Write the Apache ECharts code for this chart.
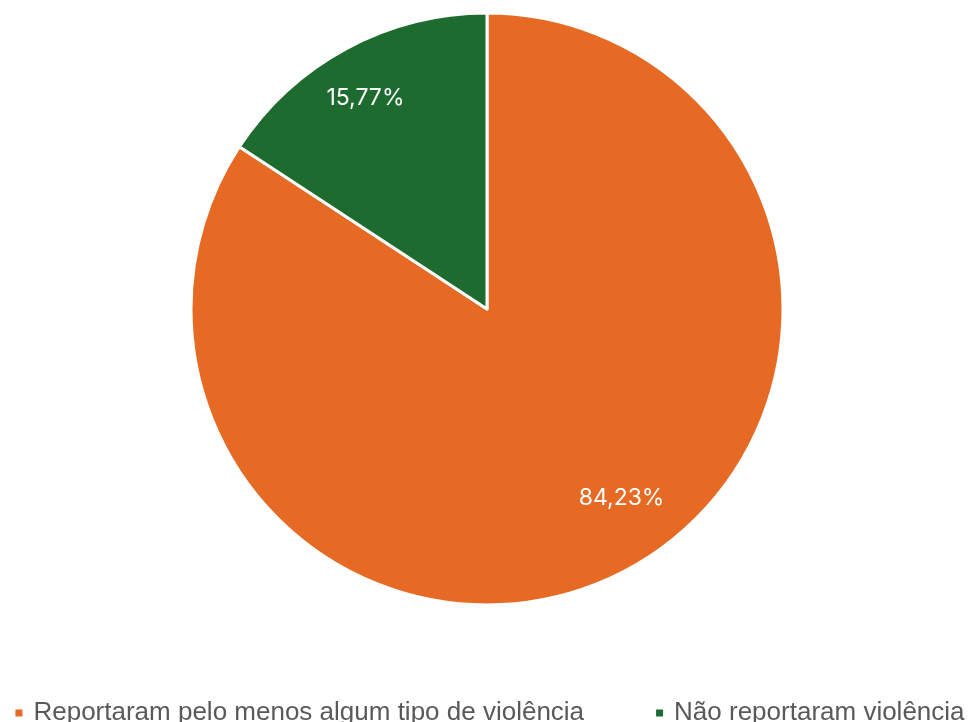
<!DOCTYPE html>
<html>
<head>
<meta charset="utf-8">
<script src="https://cdn.jsdelivr.net/npm/echarts@6/dist/echarts.min.js"></script>
<style>
  html, body { margin: 0; padding: 0; background: #fff; }
  #chart { width: 978px; height: 722px; }
</style>
</head>
<body>
<div id="chart"></div>
<script>
const categories = ['Reportaram pelo menos algum tipo de violência', 'Não reportaram violência']
const values = [84.23, 15.77]
const colors = ['#E66A23', '#1E6B30']

const chart = echarts.init(document.getElementById('chart'))

const fmt = (p) => p.value.toFixed(2).replace('.', ',') + '%'

chart.setOption({
  animation: false,
  legend: {
    data: categories,
    bottom: -9,
    left: 'center',
    icon: 'rect',
    itemWidth: 9,
    itemHeight: 9,
    itemGap: 70,
    textStyle: {
      fontFamily: 'Liberation Sans',
      fontSize: 26,
      color: '#595959',
      padding: [0, 0, 0, 5]
    }
  },
  series: [
    {
      name: 'main',
      type: 'pie',
      center: [487, 309],
      radius: [0, 296],
      startAngle: 90,
      clockwise: true,
      label: { show: false },
      labelLine: { show: false },
      itemStyle: { borderColor: '#fff', borderWidth: 3 },
      data: categories.map((name, i) => ({
        name: name,
        value: values[i],
        itemStyle: { color: colors[i] }
      }))
    },
    {
      // invisible ring used only to place the value labels
      name: 'labels',
      type: 'pie',
      silent: true,
      center: [487, 309],
      radius: [180, 296],
      startAngle: 90,
      clockwise: true,
      itemStyle: { color: 'transparent', borderWidth: 0 },
      label: {
        show: true,
        position: 'inside',
        formatter: fmt,
        color: '#fff',
        fontSize: 23,
        fontFamily: 'Inter'
      },
      labelLine: { show: false },
      data: categories.map((name, i) => ({
        name: name,
        value: values[i],
        label: { offset: i === 0 ? [20, -23] : [-7, 1] }
      }))
    }
  ]
})
</script>
</body>
</html>
